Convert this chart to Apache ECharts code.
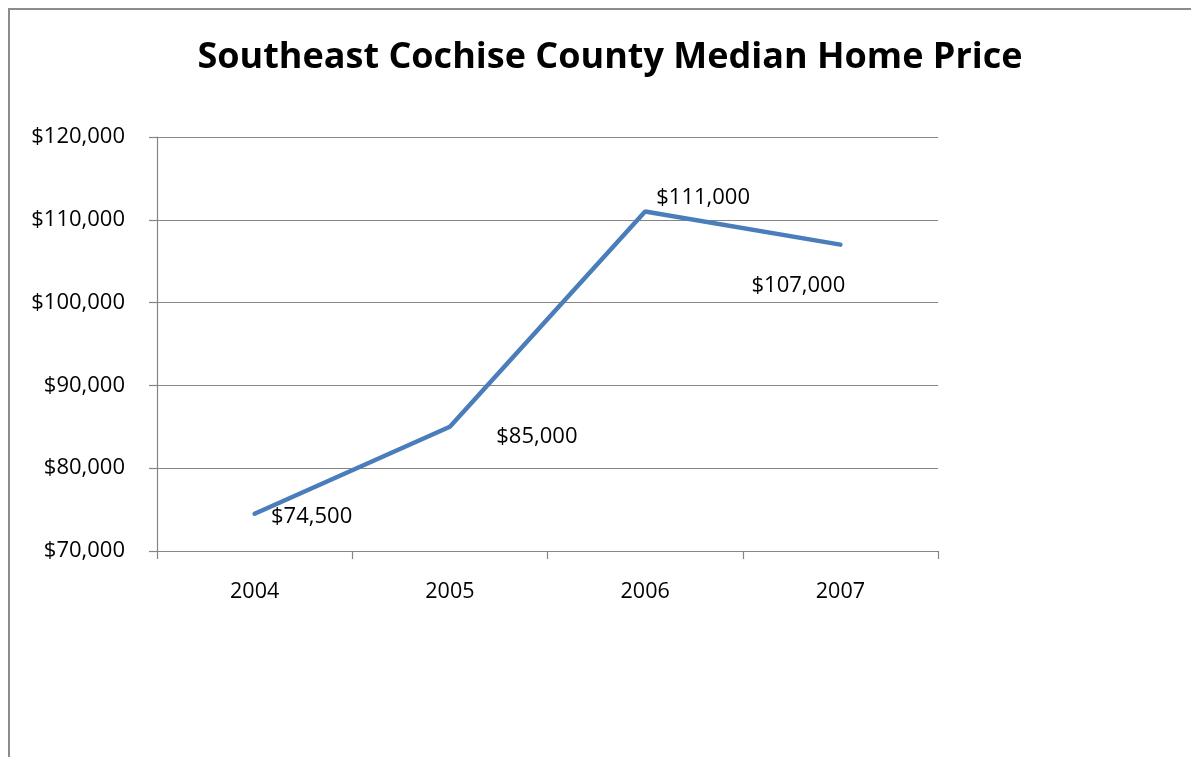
<!DOCTYPE html>
<html>
<head>
<meta charset="utf-8">
<script src="https://cdn.jsdelivr.net/npm/echarts@6/dist/echarts.min.js"></script>
<style>
  html, body { margin: 0; padding: 0; background: #ffffff; }
  #chart { width: 1191px; height: 757px; }
</style>
</head>
<body>
<div id="chart"></div>
<script>
// Median home price by year, Southeast Cochise County
const years = ['2004', '2005', '2006', '2007'];
const medianPrice = [74500, 85000, 111000, 107000];
// Hand-placed label offsets for each data label, [dx, dy] in pixels
const labelOffsets = [[57, 3], [87, 10], [58, -14], [-42, 41]];

const yMin = 70000, yMax = 120000, yStep = 10000;

const fmtMoney = v => '$' + Math.round(v).toLocaleString('en-US');
const fontFamily = '"Open Sans", "Noto Sans", sans-serif';
const gray = '#868686';

const chart = echarts.init(document.getElementById('chart'), null, { renderer: 'canvas' });

chart.setOption({
  animation: false,
  backgroundColor: '#ffffff',
  title: {
    text: 'Southeast Cochise County Median Home Price',
    left: 605,
    top: 35,
    textAlign: 'center',
    textStyle: { fontFamily, fontWeight: 'bold', fontSize: 36, color: '#000000' }
  },
  graphic: [
    { type: 'line', shape: { x1: 9, y1: 9, x2: 1191, y2: 9 }, style: { stroke: '#8c8c8c', lineWidth: 2 } },
    { type: 'line', shape: { x1: 9, y1: 8, x2: 9, y2: 757 }, style: { stroke: '#8c8c8c', lineWidth: 2 } }
  ],
  grid: { left: 157, top: 137, right: 253, bottom: 206 },
  xAxis: {
    type: 'category',
    data: years,
    boundaryGap: true,
    axisLine: { lineStyle: { color: gray, width: 1.2 } },
    axisTick: { show: true, length: 8, lineStyle: { color: gray, width: 1.2 } },
    axisLabel: { margin: 30, fontFamily, fontSize: 21.5, color: '#000000' },
    splitLine: { show: false }
  },
  yAxis: {
    type: 'value',
    min: yMin,
    max: yMax,
    interval: yStep,
    axisLine: { show: true, lineStyle: { color: gray, width: 1.2 } },
    axisTick: { show: true, length: 8, lineStyle: { color: gray, width: 1.2 } },
    axisLabel: { margin: 32, fontFamily, fontSize: 22, color: '#000000', formatter: fmtMoney },
    splitLine: { show: true, lineStyle: { color: gray, width: 1.2 } }
  },
  series: [{
    type: 'line',
    data: medianPrice.map((v, i) => ({
      value: v,
      label: { offset: labelOffsets[i] }
    })),
    symbol: 'circle',
    symbolSize: 1,
    lineStyle: { color: '#4a7ebb', width: 4.5, cap: 'round' },
    itemStyle: { color: '#4a7ebb' },
    label: {
      show: true,
      position: 'inside',
      align: 'center',
      verticalAlign: 'middle',
      fontFamily,
      fontSize: 22,
      color: '#000000',
      formatter: p => fmtMoney(p.value)
    }
  }]
});
</script>
</body>
</html>
